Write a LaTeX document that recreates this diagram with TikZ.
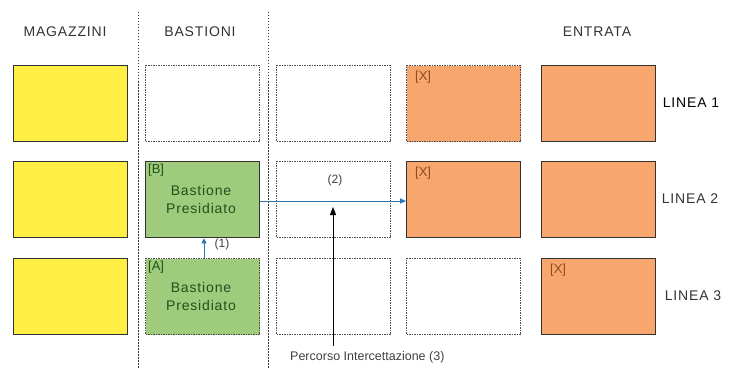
\documentclass[tikz,border=0pt]{standalone}
\usepackage{fontspec}
\setmainfont{Liberation Sans}
\newfontfamily\widefont[LetterSpace=6]{Liberation Sans}
\usetikzlibrary{arrows.meta}
\definecolor{yel}{HTML}{FFEE44}
\definecolor{grn}{HTML}{9ECB7C}
\definecolor{org}{HTML}{F7A66E}
\definecolor{txtg}{HTML}{24501A}
\definecolor{txto}{HTML}{8E4A1C}
\definecolor{edge}{HTML}{333333}
\definecolor{blu}{HTML}{2E75B0}
\begin{document}
\begin{tikzpicture}[x=1pt,y=-1pt,
  font=\fontsize{12}{14}\selectfont,
  cell/.style={draw=edge,line width=1.3pt,minimum width=114pt,minimum height=76pt,inner sep=0pt,anchor=north west},
  solidcell/.style={cell,solid},
  dotcell/.style={cell,draw=black!70,dash pattern=on 1.5pt off 1pt},
  tag/.style={anchor=north west,inner sep=0pt,font=\fontsize{13}{15}\selectfont},
  head/.style={text=black!80,inner sep=0pt,font=\widefont\fontsize{14}{16}\selectfont},
  gtext/.style={text=txtg,align=center,inner sep=0pt,font=\widefont\fontsize{14}{18}\selectfont},
  small/.style={text=black!75,inner sep=0pt,font=\fontsize{12}{14}\selectfont},
  divider/.style={line width=0.9pt,dash pattern=on 1.5pt off 1.5pt,black!80}]
\useasboundingbox (0,0) rectangle (734,369);
% column dividers
\coordinate (d1t) at (138,12); \coordinate (d1b) at (138,369);
\coordinate (d2t) at (268,12); \coordinate (d2b) at (268,369);
\draw[divider] (d1t) -- (d1b);
\draw[divider] (d2t) -- (d2b);
% headers
\node[head] (hmag) at (65,32) {MAGAZZINI};
\node[head] (hbas) at (200,32) {BASTIONI};
\node[head] (hent) at (597,32) {ENTRATA};
% row 1
\node[solidcell,fill=yel] (m1) at (13,65) {};
\node[dotcell,fill=white] (b1) at (145,65) {};
\node[dotcell,fill=white] (c1) at (276,65) {};
\node[dotcell,fill=org] (e1) at (406,65) {};
\node[solidcell,fill=org] (f1) at (541,65) {};
% row 2
\node[solidcell,fill=yel] (m2) at (13,161) {};
\node[solidcell,fill=grn] (b2) at (145,161) {};
\node[dotcell,fill=white] (c2) at (276,161) {};
\node[solidcell,fill=org] (e2) at (406,161) {};
\node[solidcell,fill=org] (f2) at (541,161) {};
% row 3
\node[solidcell,fill=yel] (m3) at (13,258) {};
\node[dotcell,fill=grn] (b3) at (145,258) {};
\node[dotcell,fill=white] (c3) at (276,258) {};
\node[dotcell,fill=white] (e3) at (406,258) {};
\node[solidcell,fill=org] (f3) at (541,258) {};
% tags inside cells
\node[tag,text=txto] (x1) at (415,71) {[X]};
\node[tag,text=txto] (x2) at (415,167) {[X]};
\node[tag,text=txto] (x3) at (550,264) {[X]};
\node[tag,text=txtg] (tb) at (148,164) {[B]};
\node[tag,text=txtg] (ta) at (148,261) {[A]};
\node[gtext] (lb) at (201,199) {Bastione\\Presidiato};
\node[gtext] (la) at (201,296) {Bastione\\Presidiato};
% row labels
\node[head,text=black] (r1) at (691,103) {LINEA 1};
\node[head] (r2) at (690,199) {LINEA 2};
\node[head] (r3) at (693,296) {LINEA 3};
% movements
\draw[blu,line width=1pt,-{Triangle[length=5pt,width=5pt]}] (b3.north-|204,0) -- (b2.south-|204,0);
\node[small] (n1) at (222,244) {(1)};
\draw[blu,line width=1pt,-{Triangle[length=6pt,width=5pt]}] (b2.east|-0,201) -- (e2.west|-0,201);
\node[small] (n2) at (335,180) {(2)};
\node[small,anchor=west,font=\fontsize{12.5}{14}\selectfont] (perc) at (290,357) {Percorso Intercettazione (3)};
\coordinate (ptip) at (333,207);
\draw[black,line width=1pt,-{Triangle[length=8pt,width=6pt]}] (ptip|-0,346) -- (ptip);
\end{tikzpicture}
\end{document}
